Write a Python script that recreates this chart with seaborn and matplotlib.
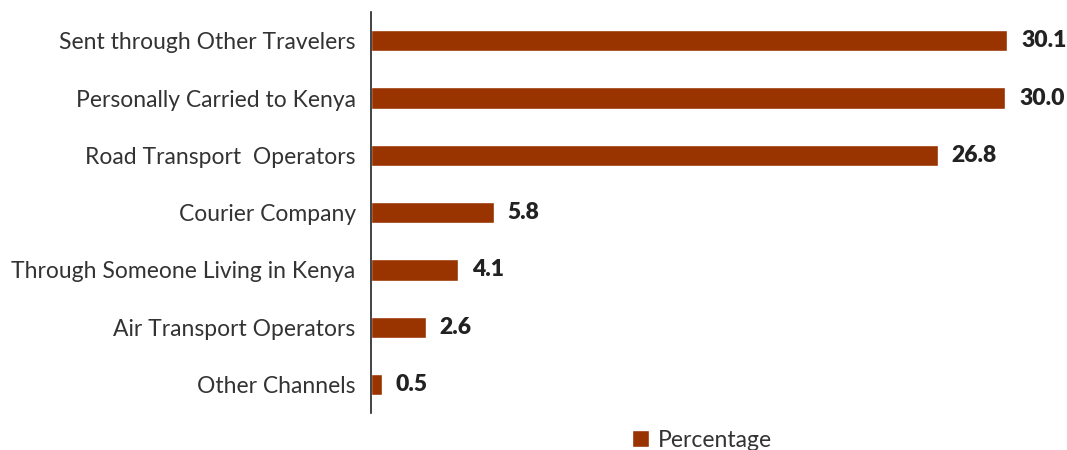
import matplotlib
matplotlib.use("Agg")
import matplotlib.pyplot as plt
import seaborn as sns
import pandas as pd

channels = [
    "Sent through Other Travelers",
    "Personally Carried to Kenya",
    "Road Transport  Operators",
    "Courier Company",
    "Through Someone Living in Kenya",
    "Air Transport Operators",
    "Other Channels",
]
percentages = [30.1, 30.0, 26.8, 5.8, 4.1, 2.6, 0.5]
series_name = "Percentage"

df = pd.DataFrame({"Channel": channels, "Value": percentages, "Series": series_name})

sns.set_theme(style="white")
plt.rcParams["font.family"] = ["Lato", "DejaVu Sans"]

bar_color = "#993300"

fig = plt.figure(figsize=(10.67, 4.5), dpi=100)
ax = fig.add_axes([0.3477, 0.082, 0.646, 0.891])

sns.barplot(data=df, y="Channel", x="Value", hue="Series", palette=[bar_color],
            orient="h", width=0.37, ax=ax, saturation=1)

ax.set_xlim(0, 32.6)
ax.set_xlabel("")
ax.set_ylabel("")
ax.set_xticks([])
ax.tick_params(axis="y", length=0, pad=11, labelsize=16.5, labelcolor="#333333")

for s in ["top", "right", "bottom"]:
    ax.spines[s].set_visible(False)
ax.spines["left"].set_color("#222222")
ax.spines["left"].set_linewidth(1.2)

for container in ax.containers:
    ax.bar_label(container, fmt="%.1f", padding=10, fontsize=16.5,
                 fontweight="heavy", color="#222222")

leg = ax.legend(loc="center", bbox_to_anchor=(0.658, 0.022), bbox_transform=fig.transFigure,
                frameon=False, fontsize=16.5, handlelength=0.75, handleheight=0.75,
                handletextpad=0.4)
for t in leg.get_texts():
    t.set_color("#333333")

fig.savefig("out.png", dpi=100)
